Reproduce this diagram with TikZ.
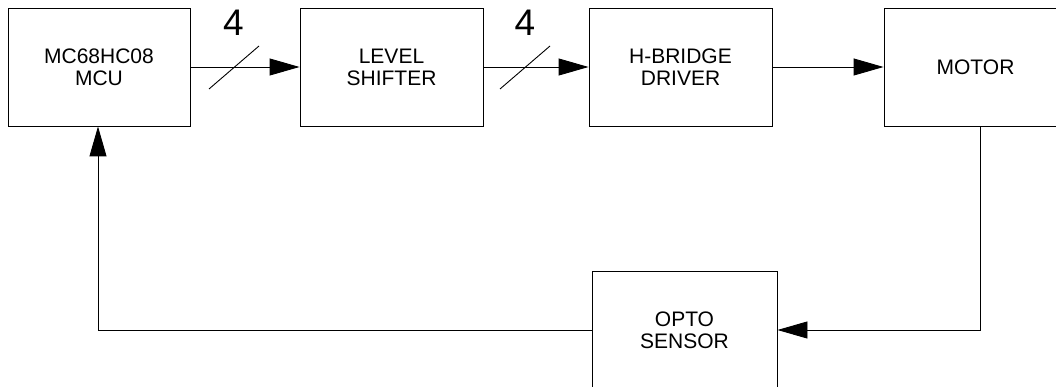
\documentclass[tikz,border=0pt]{standalone}
\usepackage{fontspec}
\setmainfont{Liberation Sans}
\usetikzlibrary{arrows.meta}
\begin{document}
\begin{tikzpicture}[x=1pt,y=-1pt,
  blk/.style={draw, line width=0.9pt, minimum width=183pt, minimum height=118pt,
    inner sep=0pt, align=center, font=\fontsize{21}{22}\selectfont},
  conn/.style={line width=0.9pt, -{Triangle[length=30pt,width=17pt]}},
  bus/.style={line width=0.9pt},
  num/.style={font=\fontsize{37}{37}\selectfont, inner sep=0pt}]
\useasboundingbox (0,0) rectangle (1056,387);
\clip (0,0) rectangle (1056,387);
\node[blk, minimum width=182pt] (mcu) at (99,67) {MC68HC08\\MCU};
\node[blk] (ls) at (391.5,67) {LEVEL\\SHIFTER};
\node[blk] (hb) at (680.5,67) {H-BRIDGE\\DRIVER};
\node[blk] (mot) at (975.5,67) {MOTOR};
\node[blk, minimum width=185pt] (opto) at (684.5,330) {OPTO\\SENSOR};
% bus arrows
\draw[conn] (mcu.east) -- (ls.west);
\draw[conn] (ls.east) -- (hb.west);
\draw[conn] (hb.east) -- (mot.west);
\coordinate (s1) at (234,67.5);
\coordinate (s2) at (525,67.5);
\draw[bus] ([shift={(-25,21.5)}]s1) -- ([shift={(25,-21.5)}]s1);
\draw[bus] ([shift={(-25,21.5)}]s2) -- ([shift={(25,-21.5)}]s2);
\node[num] (n1) at (233.5,22.5) {4};
\node[num] (n2) at (525,22.5) {4};
% feedback
\draw[conn] ([xshift=4.5pt]mot.south) |- (opto.east);
\draw[conn] (opto.west) -| ([xshift=-1pt]mcu.south);
\end{tikzpicture}
\end{document}
